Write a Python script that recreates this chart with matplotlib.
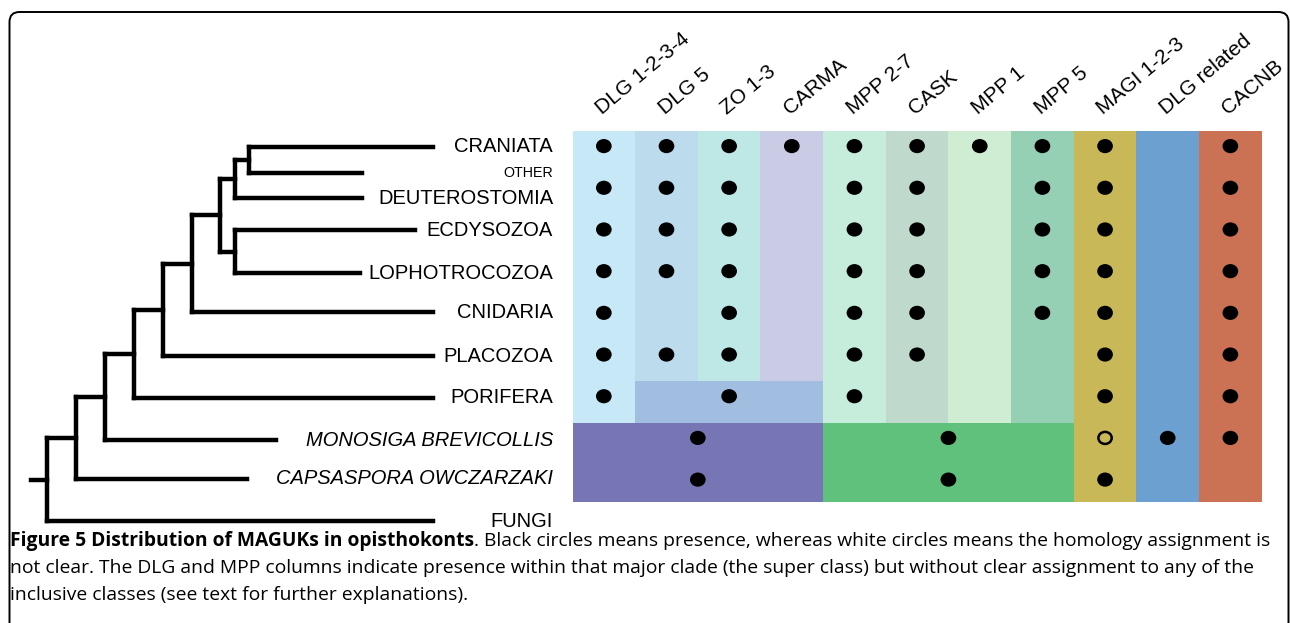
import matplotlib.pyplot as plt
from matplotlib.patches import Ellipse, Rectangle, FancyBboxPatch

# columnas (clases de MAGUK) y taxones
columnas = ['DLG 1-2-3-4', 'DLG 5', 'ZO 1-3', 'CARMA', 'MPP 2-7', 'CASK',
            'MPP 1', 'MPP 5', 'MAGI 1-2-3', 'DLG related', 'CACNB']
cores_colunas = ['#C6E8F7', '#BCDCEE', '#BDE8E5', '#CACBE4', '#C6ECDC', '#BFD9CC',
                 '#CEEDD3', '#96D0B4', '#C8B857', '#6BA0D0', '#CB7254']

# 1 = presente (circulo negro), 2 = asignacion dudosa (circulo blanco), 0 = ausente,
# -1 = celda cubierta por una super clase
presenca = [
    [1, 1, 1, 1, 1, 1, 1, 1, 1, 0, 1],   # CRANIATA
    [1, 1, 1, 0, 1, 1, 0, 1, 1, 0, 1],   # DEUTEROSTOMIA
    [1, 1, 1, 0, 1, 1, 0, 1, 1, 0, 1],   # ECDYSOZOA
    [1, 1, 1, 0, 1, 1, 0, 1, 1, 0, 1],   # LOPHOTROCOZOA
    [1, 0, 1, 0, 1, 1, 0, 1, 1, 0, 1],   # CNIDARIA
    [1, 1, 1, 0, 1, 1, 0, 0, 1, 0, 1],   # PLACOZOA
    [1, -1, -1, -1, 1, 0, 0, 0, 1, 0, 1],  # PORIFERA
    [-1, -1, -1, -1, -1, -1, -1, -1, 2, 1, 1],  # MONOSIGA
    [-1, -1, -1, -1, -1, -1, -1, -1, 1, 0, 0],  # CAPSASPORA
]

# super clases (DLG / MPP) sin asignacion clara
super_linhas = [(6, 6), (7, 8), (7, 8)]
super_colunas = [(1, 3), (0, 3), (4, 7)]
super_cores = ['#A1BEE0', '#7776B5', '#5FC17C']
super_presenca = [[1], [1, 1], [1, 1]]

# limites de filas de la tabla
bordas_linhas = [-0.35, 0.63, 1.63, 2.63, 3.63, 4.63, 5.63, 6.65, 7.6, 8.53]

# arbol: (profundidad, [hijos])
arvore = (0, [(1, [(2, [(3, [(4, [(5, [(6, [(6.5, [(7, ['CRANIATA', 'OTHER']), 'DEUTEROSTOMIA']),
                                           (6.5, ['ECDYSOZOA', 'LOPHOTROCOZOA'])]),
                                     'CNIDARIA']),
                               'PLACOZOA']),
                         'PORIFERA']),
                   'MONOSIGA BREVICOLLIS']),
             'CAPSASPORA OWCZARZAKI']),
          'FUNGI'])
folhas_y = {'CRANIATA': 0.02, 'OTHER': 0.65, 'DEUTEROSTOMIA': 1.25, 'ECDYSOZOA': 2.02,
            'LOPHOTROCOZOA': 3.05, 'CNIDARIA': 3.98, 'PLACOZOA': 5.04, 'PORIFERA': 6.04,
            'MONOSIGA BREVICOLLIS': 7.05, 'CAPSASPORA OWCZARZAKI': 7.98, 'FUNGI': 9.0}
folhas_fim = {'CRANIATA': 13.36, 'OTHER': 10.9, 'DEUTEROSTOMIA': 10.9, 'ECDYSOZOA': 12.73,
              'LOPHOTROCOZOA': 10.83, 'CNIDARIA': 13.36, 'PLACOZOA': 13.36, 'PORIFERA': 13.36,
              'MONOSIGA BREVICOLLIS': 7.92, 'CAPSASPORA OWCZARZAKI': 6.92, 'FUNGI': 13.36}
italicos = ['MONOSIGA BREVICOLLIS', 'CAPSASPORA OWCZARZAKI']

plt.rcParams['font.family'] = ['Liberation Sans', 'DejaVu Sans']

W, H = 1290, 623
fig = plt.figure(figsize=(W / 100, H / 100), dpi=100)

# moldura com cantos arredondados (em pixels)
ax_bg = fig.add_axes([0, 0, 1, 1])
ax_bg.set_xlim(0, W)
ax_bg.set_ylim(H, 0)
ax_bg.axis('off')
ax_bg.add_patch(FancyBboxPatch((9.5, 12), 1279, 660, boxstyle='round,pad=0,rounding_size=10',
                               fill=False, edgecolor='black', linewidth=1.4))

# tabela
g_left, g_right, g_top, g_bot = 572.5, 1261.7, 131.5, 501.7
ax = fig.add_axes([g_left / W, 1 - g_bot / H, (g_right - g_left) / W, (g_bot - g_top) / H])
ax.set_xlim(-0.5, len(columnas) - 0.5)
ax.set_ylim(bordas_linhas[-1], bordas_linhas[0])
ax.axis('off')

for j, cor in enumerate(cores_colunas):
    ax.add_patch(Rectangle((j - 0.5, bordas_linhas[0]), 1, bordas_linhas[-1] - bordas_linhas[0],
                           facecolor=cor, edgecolor='none'))

for (r0, r1), (c0, c1), cor in zip(super_linhas, super_colunas, super_cores):
    ax.add_patch(Rectangle((c0 - 0.5, bordas_linhas[r0]), c1 - c0 + 1,
                           bordas_linhas[r1 + 1] - bordas_linhas[r0],
                           facecolor=cor, edgecolor='none'))

dw, dh = 0.25, 0.34
for i, linha in enumerate(presenca):
    for j, v in enumerate(linha):
        if v == 1:
            ax.add_patch(Ellipse((j, i), dw, dh, facecolor='black', edgecolor='none'))
        elif v == 2:
            ax.add_patch(Ellipse((j, i), dw * 0.85, dh * 0.85, facecolor=cores_colunas[j],
                                 edgecolor='black', linewidth=1.8))

for (r0, r1), (c0, c1), pres in zip(super_linhas, super_colunas, super_presenca):
    for k, v in enumerate(pres):
        if v:
            ax.add_patch(Ellipse(((c0 + c1) / 2, r0 + k), dw, dh, facecolor='black', edgecolor='none'))

for j, nome in enumerate(columnas):
    ax.text(j - 0.03, -0.74, nome, rotation=40, rotation_mode='anchor', ha='left', va='baseline',
            fontsize=15, clip_on=False)

# arvore
ax_t = fig.add_axes([0, 1 - g_bot / H, g_left / W, (g_bot - g_top) / H], sharey=ax)
ax_t.set_xlim(-47 / 28.9, (g_left - 47) / 28.9)
ax_t.axis('off')
lw = 3.2


def desenha(no):
    if isinstance(no, str):
        return folhas_y[no]
    prof, filhos = no
    ys = []
    for f in filhos:
        y = desenha(f)
        fim = folhas_fim[f] if isinstance(f, str) else f[0]
        ax_t.plot([prof, fim], [y, y], color='black', lw=lw, solid_capstyle='projecting', clip_on=False)
        ys.append(y)
    ax_t.plot([prof, prof], [min(ys), max(ys)], color='black', lw=lw,
              solid_capstyle='projecting', clip_on=False)
    return (min(ys) + max(ys)) / 2


y_raiz = desenha(arvore)
ax_t.plot([-0.55, 0], [y_raiz, y_raiz], color='black', lw=lw, clip_on=False)

for nome, y in folhas_y.items():
    tam = 10.3 if nome == 'OTHER' else 14.5
    ax_t.text(17.51, y, nome, ha='right', va='center', fontsize=tam, clip_on=False,
              style='italic' if nome in italicos else 'normal')

# legenda da figura
cap_font = 'Open Sans'
cap_size = 13.9
renderer = fig.canvas.get_renderer()
t_bold = fig.text(10 / W, 1 - 546 / H, 'Figure 5 Distribution of MAGUKs in opisthokonts',
                  fontweight='bold', fontsize=cap_size, family=cap_font, va='baseline', ha='left')
bb = t_bold.get_window_extent(renderer)
fig.text(bb.x1 / W, 1 - 546 / H,
         '. Black circles means presence, whereas white circles means the homology assignment is',
         fontsize=cap_size, family=cap_font, va='baseline', ha='left')
fig.text(10 / W, 1 - 573 / H,
         'not clear. The DLG and MPP columns indicate presence within that major clade (the super class) '
         'but without clear assignment to any of the',
         fontsize=cap_size, family=cap_font, va='baseline', ha='left')
fig.text(10 / W, 1 - 600 / H, 'inclusive classes (see text for further explanations).',
         fontsize=cap_size, family=cap_font, va='baseline', ha='left')

plt.savefig('out.png', dpi=100)
plt.close()
